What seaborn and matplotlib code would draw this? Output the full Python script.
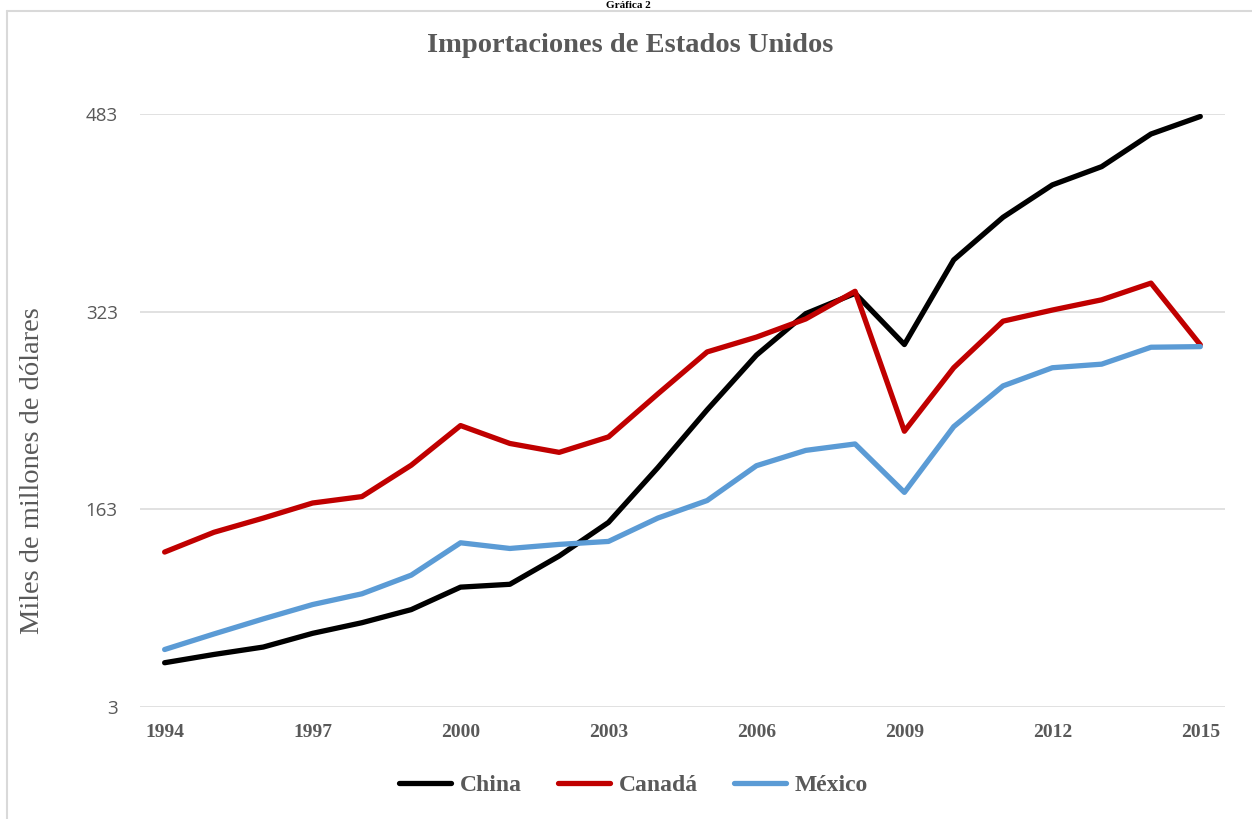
import pandas as pd
import numpy as np
import seaborn as sns
import matplotlib.pyplot as plt
from matplotlib.lines import Line2D

# datos (miles de millones de dolares)
years = list(range(1994, 2016))
china = [38.8, 45.5, 51.5, 62.6, 71.2, 81.8, 100.0, 102.3, 125.2, 152.4, 196.7,
         243.5, 287.8, 321.4, 337.8, 296.4, 364.9, 399.4, 425.6, 440.4, 466.8, 481.0]
canada = [128.4, 144.4, 155.9, 168.1, 173.3, 198.7, 230.8, 216.3, 209.1, 221.6, 256.4,
          290.4, 302.4, 317.1, 339.5, 226.2, 277.6, 315.3, 324.3, 332.6, 346.1, 296.2]
mexico = [49.5, 62.1, 74.3, 85.9, 94.6, 109.7, 135.9, 131.3, 134.6, 137.0, 155.9,
          170.1, 198.3, 210.7, 215.9, 176.7, 229.9, 262.9, 277.6, 280.5, 294.2, 294.7]
series = ['China', 'Canadá', 'México']
colors = ['#000000', '#C00000', '#5B9BD5']
yticks = [3, 163, 323, 483]
xticks = [1994, 1997, 2000, 2003, 2006, 2009, 2012, 2015]

df = pd.DataFrame({'Año': years * 3,
                   'Valor': china + canada + mexico,
                   'País': sum([[s] * len(years) for s in series], [])})

sns.set_style('white')
plt.rcParams['font.family'] = ['Liberation Serif', 'DejaVu Serif']
gray = '#595959'

fig = plt.figure(figsize=(12.52, 8.19), dpi=100)
ax = fig.add_axes([0.1118, 0.1368, 0.8666, 0.724])

sns.lineplot(data=df, x='Año', y='Valor', hue='País', palette=colors,
             linewidth=3.8, ax=ax, legend=False)

ax.set_xlim(1993.5, 2015.5)
ax.set_ylim(3, 483)
ax.set_yticks(yticks)
ax.set_xticks(xticks)
ax.set_yticklabels([str(v) for v in yticks], family='Open Sans', fontsize=13.5, color=gray)
ax.set_xticklabels([str(v) for v in xticks], fontsize=14, fontweight='bold', color=gray)
ax.tick_params(axis='y', length=0, pad=16)
ax.tick_params(axis='x', length=0, pad=12)
ax.grid(axis='y', color='#D9D9D9', linewidth=1.1)
ax.set_axisbelow(True)
for s in ax.spines.values():
    s.set_visible(False)
ax.set_xlabel('')
ax.set_ylabel('')

fig.text(33 / 1252, 1 - 471 / 819, 'Miles de millones de dólares', rotation=90,
         ha='center', va='center', fontsize=20.5, color=gray)
fig.text(0.503, 1 - 46 / 819, 'Importaciones de Estados Unidos', ha='center',
         va='center', fontsize=20.5, fontweight='bold', color=gray)
fig.text(0.502, 1 - 0.5 / 819, 'Gráfica 2', ha='center', va='top',
         fontsize=8, fontweight='bold', color='black')

# marco del grafico
fig.add_artist(Line2D([7 / 1252, 1.0], [1 - 11 / 819, 1 - 11 / 819], color='#D9D9D9', lw=1.5))
fig.add_artist(Line2D([7 / 1252, 7 / 1252], [0, 1 - 11 / 819], color='#D9D9D9', lw=1.5))

handles = [Line2D([], [], color=c, lw=3.8, solid_capstyle='round') for c in colors]
leg = fig.legend(handles, series, loc='center', bbox_to_anchor=(0.506, 1 - 785 / 819),
                 ncol=3, frameon=False, handlelength=2.2, handletextpad=0.4,
                 columnspacing=1.5, prop={'size': 17, 'weight': 'bold'})
for t in leg.get_texts():
    t.set_color(gray)

fig.savefig('out.png', dpi=100)
